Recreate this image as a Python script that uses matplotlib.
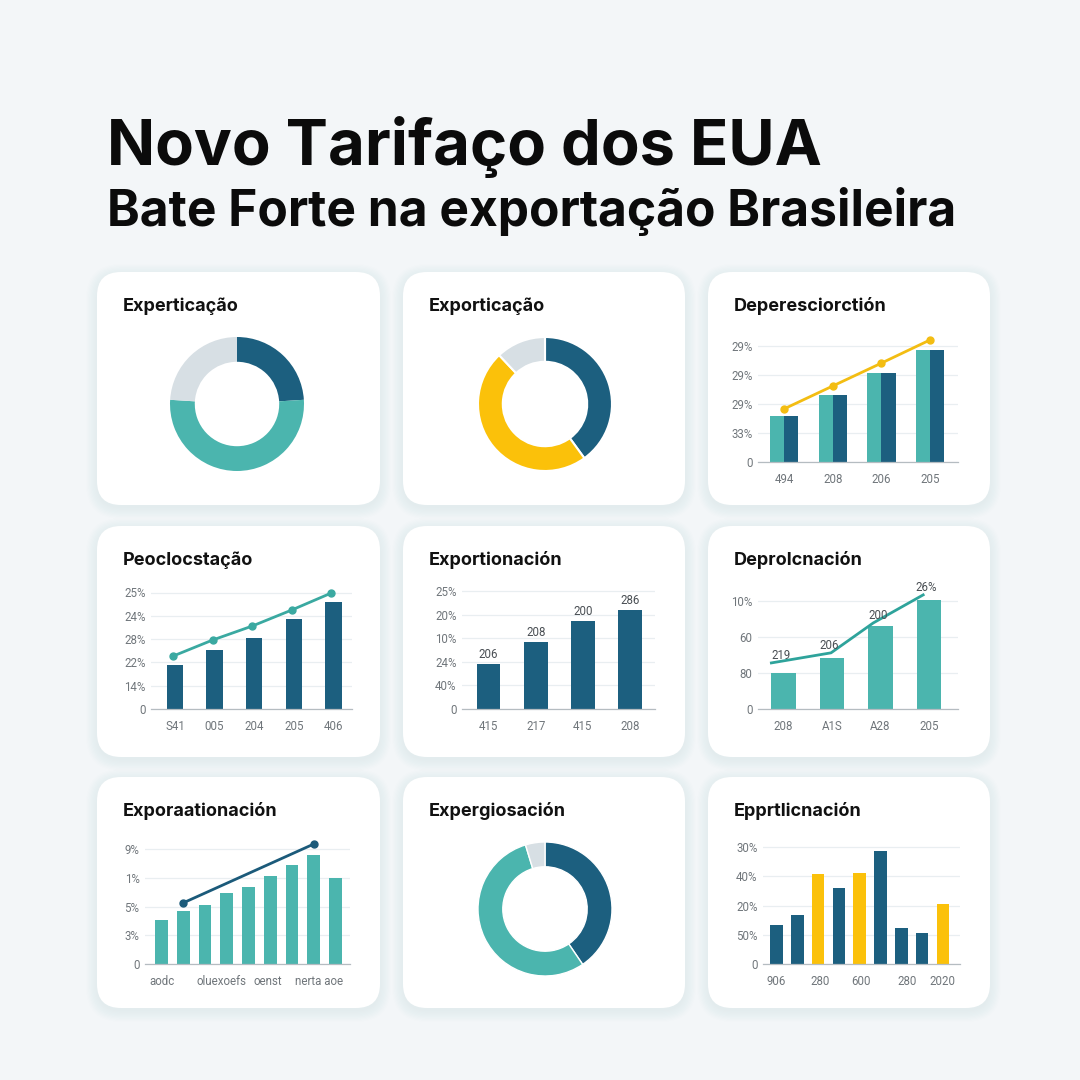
import matplotlib
matplotlib.use('Agg')
import matplotlib.pyplot as plt
from matplotlib.patches import FancyBboxPatch
import numpy as np

W = 1080
TEAL = '#4bb5ae'
DARK = '#1c5f7f'
YELLOW = '#fbc10a'
GRAY = '#d7dfe4'
GRID = '#e9eef1'
TICK = '#70767b'

title_1 = 'Novo Tarifaço dos EUA'
title_2 = 'Bate Forte na exportação Brasileira'
card_titles = ['Experticação', 'Exporticação', 'Deperesciorctión',
               'Peoclocstação', 'Exportionación', 'Deprolcnación',
               'Exporaationación', 'Expergiosación', 'Epprtlicnación']

# donuts (clockwise from 12 o'clock)
donut1_vals = [24, 52, 24]
donut1_cols = [DARK, TEAL, GRAY]
donut2_vals = [40, 48, 12]
donut2_cols = [DARK, YELLOW, GRAY]
donut3_vals = [40.5, 54.8, 4.7]
donut3_cols = [DARK, TEAL, GRAY]

# panel 3
p3_x = ['494', '208', '206', '205']
p3_teal = [1.59, 2.31, 3.07, 3.86]
p3_dark = [1.59, 2.31, 3.07, 3.86]
p3_line = [1.83, 2.62, 3.41, 4.21]
p3_y = ['0', '33%', '29%', '29%', '29%']

# panel 4
p4_x = ['S41', '005', '204', '205', '406']
p4_bars = [1.89, 2.53, 3.05, 3.86, 4.59]
p4_line = [2.27, 2.96, 3.56, 4.25, 4.98]
p4_y = ['0', '14%', '22%', '28%', '24%', '25%']

# panel 5
p5_x = ['415', '217', '415', '208']
p5_bars = [1.91, 2.84, 3.73, 4.19]
p5_lbl = ['206', '208', '200', '286']
p5_y = ['0', '40%', '24%', '10%', '20%', '25%']

# panel 6
p6_x = ['208', 'A1S', 'A28', '205']
p6_bars = [1.0, 1.42, 2.31, 3.03]
p6_line_x = [-0.25, 0.98, 1.85, 2.88]
p6_line = [1.28, 1.56, 2.39, 3.17]
p6_lbl = ['219', '206', '200', '26%']
p6_y = ['0', '80', '60', '10%']

# panel 7
p7_bars = [1.53, 1.85, 2.06, 2.47, 2.68, 3.07, 3.45, 3.80, 3.00]
p7_line_x = [1, 7]
p7_line = [2.13, 4.18]
p7_xpos = [0, 2.74, 4.9, 7.24]
p7_x = ['aodc', 'oluexoefs', 'oenst', 'nerta aoe']
p7_y = ['0', '3%', '5%', '1%', '9%']

# panel 9
p9_bars = [1.34, 1.68, 3.08, 2.60, 3.12, 3.87, 1.23, 1.06, 2.05]
p9_cols = [DARK, DARK, YELLOW, DARK, YELLOW, DARK, DARK, DARK, YELLOW]
p9_xpos = [0, 2.1, 4.05, 6.3, 8]
p9_x = ['906', '280', '600', '280', '2020']
p9_y = ['0', '50%', '20%', '40%', '30%']

plt.rcParams['font.family'] = ['Roboto', 'DejaVu Sans']

fig = plt.figure(figsize=(10.8, 10.8), dpi=100)
fig.patch.set_facecolor('#f3f6f8')

bg = fig.add_axes([0, 0, 1, 1])
bg.set_xlim(0, W)
bg.set_ylim(W, 0)
bg.axis('off')

cols_px = [(97, 380), (403, 685), (708, 990)]
rows_px = [(272, 505), (526, 757), (777, 1008)]

for r, (y0, y1) in enumerate(rows_px):
    for c, (x0, x1) in enumerate(cols_px):
        # soft shadow, a bit lower than the card
        for k in range(10):
            s = k * 1.2
            sh = FancyBboxPatch((x0 - s, y0 - s + 3), x1 - x0 + 2 * s, y1 - y0 + 2 * s,
                                boxstyle='round,pad=0,rounding_size=%f' % (24 + s),
                                fc='#a9bdc9', ec='none', alpha=0.014, zorder=1)
            bg.add_patch(sh)
        card = FancyBboxPatch((x0, y0), x1 - x0, y1 - y0,
                              boxstyle='round,pad=0,rounding_size=24',
                              fc='white', ec='none', zorder=2)
        bg.add_patch(card)
        bg.text(x0 + 26, y0 + 34, card_titles[r * 3 + c], fontsize=13, fontweight='bold',
                family=['Inter', 'DejaVu Sans'], color='#111111', va='center', ha='left', zorder=3)


def fit_text(x, y, s, target_w, size0):
    t = bg.text(x, y, s, fontsize=size0, fontweight='bold', family=['Inter', 'DejaVu Sans'],
                color='#0b0b0b', ha='left', va='baseline', zorder=3)
    fig.canvas.draw()
    w = t.get_window_extent().width
    t.set_fontsize(size0 * target_w / w)
    return t


fit_text(107, 165, title_1, 715, 46)
fit_text(107, 226, title_2, 848, 32)


def donut(cx, cy, r, vals, colors, edge=None):
    m = r * 1.08
    ax = fig.add_axes([(cx - m) / W, 1 - (cy + m) / W, 2 * m / W, 2 * m / W])
    wp = dict(width=0.37)
    if edge:
        wp.update(edgecolor='white', linewidth=edge)
    ax.pie(vals, colors=colors, startangle=90, counterclock=False, radius=1, wedgeprops=wp)
    ax.set_xlim(-1.08, 1.08)
    ax.set_ylim(-1.08, 1.08)
    ax.set_aspect('equal')
    ax.axis('off')


donut(237, 404, 67, donut1_vals, donut1_cols)
donut(545, 404, 67, donut2_vals, donut2_cols, edge=1.5)
donut(545, 909, 67, donut3_vals, donut3_cols, edge=1.0)


def chart(x0, x1, c0, sp, base, unit, ytop, ylabels):
    top = base - ytop * unit
    ax = fig.add_axes([x0 / W, 1 - base / W, (x1 - x0) / W, (base - top) / W])
    ax.set_xlim((x0 - c0) / sp, (x1 - c0) / sp)
    ax.set_ylim(0, ytop)
    ax.set_facecolor('none')
    for s in ['top', 'right', 'left']:
        ax.spines[s].set_visible(False)
    ax.spines['bottom'].set_color('#b5bcc1')
    ax.spines['bottom'].set_linewidth(0.9)
    ax.set_yticks(range(len(ylabels)))
    ax.set_yticklabels(ylabels)
    ax.yaxis.grid(True, color=GRID, linewidth=0.9)
    ax.set_axisbelow(True)
    ax.tick_params(length=0, labelsize=8.3, colors=TICK, pad=4)
    ax.tick_params(axis='x', pad=8)
    return ax


# panel 3
ax = chart(758, 958, 784, 48.7, 462, 29, 4.4, p3_y)
xs = np.arange(len(p3_x))
ax.bar(xs - 0.145, p3_teal, 0.29, color=TEAL, zorder=2)
ax.bar(xs + 0.145, p3_dark, 0.29, color=DARK, zorder=2)
ax.plot(xs, p3_line, color='#f3bd12', lw=2, marker='o', ms=5, zorder=3, clip_on=False)
ax.set_xticks(xs)
ax.set_xticklabels(p3_x)

# panel 4
ax = chart(151, 352, 175, 39.6, 709, 23.3, 5.3, p4_y)
xs = np.arange(len(p4_x))
ax.bar(xs, p4_bars, 0.41, color=DARK, zorder=2)
ax.plot(xs - 0.05, p4_line, color='#3aa9a1', lw=2, marker='o', ms=5, zorder=3, clip_on=False)
ax.set_xticks(xs)
ax.set_xticklabels(p4_x)

# panel 5
ax = chart(462, 655, 488.5, 47.2, 709, 23.6, 5.3, p5_y)
xs = np.arange(len(p5_x))
ax.bar(xs, p5_bars, 0.5, color=DARK, zorder=2)
for x, v, s in zip(xs, p5_bars, p5_lbl):
    ax.text(x, v + 0.12, s, ha='center', va='bottom', fontsize=8.3, color='#4a4f54')
ax.set_xticks(xs)
ax.set_xticklabels(p5_x)

# panel 6
ax = chart(758, 958, 783.5, 48.5, 709, 36, 3.4, p6_y)
xs = np.arange(len(p6_x))
ax.bar(xs, p6_bars, 0.51, color=TEAL, zorder=2)
ax.plot(p6_line_x, p6_line, color='#2ea39b', lw=2, zorder=3, clip_on=False)
for x, v, s in zip(xs, p6_line, p6_lbl):
    ax.text(x - 0.05, v + 0.02, s, ha='center', va='bottom', fontsize=8.3, color='#4a4f54', zorder=4)
ax.set_xticks(xs)
ax.set_xticklabels(p6_x)

# panel 7
ax = chart(145, 350, 161.5, 21.75, 964, 28.7, 4.4, p7_y)
xs = np.arange(len(p7_bars))
ax.bar(xs, p7_bars, 0.58, color=TEAL, zorder=2)
ax.plot(p7_line_x, p7_line, color='#1b5a7a', lw=2, marker='o', ms=5, zorder=3, clip_on=False)
ax.set_xticks(p7_xpos)
ax.set_xticklabels(p7_x)

# panel 9
ax = chart(763, 960, 776.5, 20.8, 964, 29.2, 4.4, p9_y)
xs = np.arange(len(p9_bars))
ax.bar(xs, p9_bars, 0.6, color=p9_cols, zorder=2)
ax.set_xticks(p9_xpos)
ax.set_xticklabels(p9_x)

fig.savefig('out.png', dpi=100, facecolor=fig.get_facecolor())
